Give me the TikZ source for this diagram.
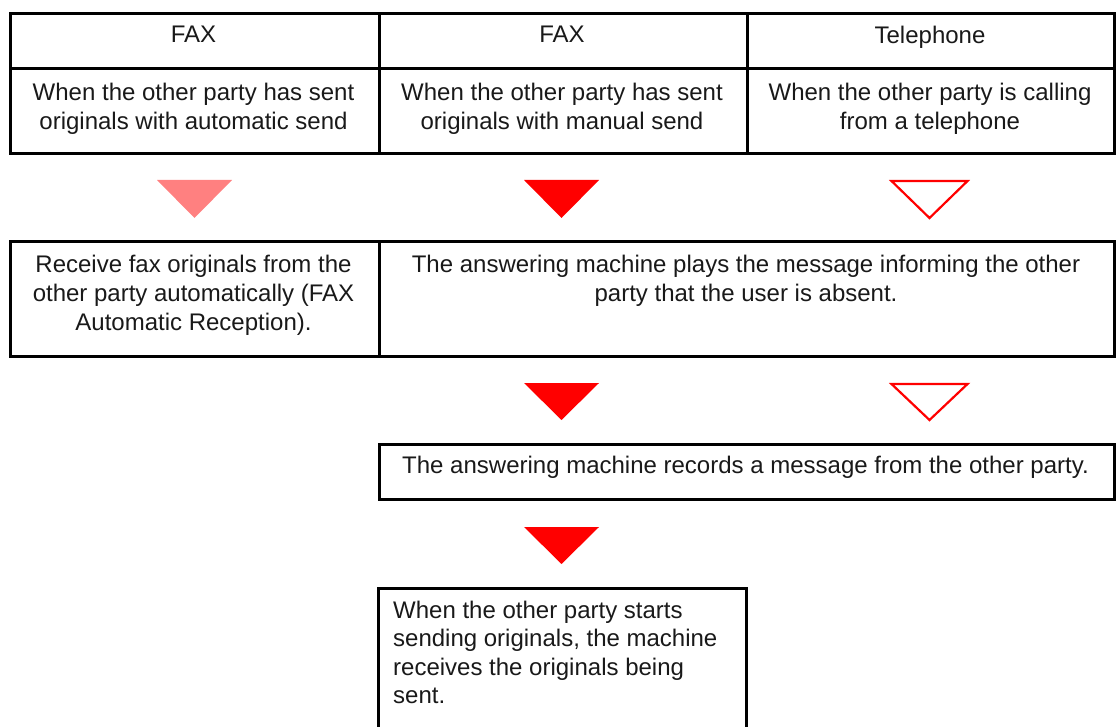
\documentclass[tikz,border=0pt]{standalone}
\usepackage{fontspec}
\setmainfont{Liberation Sans}
\begin{document}
\begin{tikzpicture}[x=1pt,y=-1pt,
  cell/.style={draw=black,line width=3pt,rectangle,inner sep=0pt,anchor=north west},
  txt/.style={inner sep=0pt,align=center,text=black!90,font=\fontsize{24}{29.2}\selectfont},
  ltxt/.style={inner sep=0pt,align=left,text=black!90,font=\fontsize{24}{28.5}\selectfont},
  redfill/.style={fill={rgb,255:red,255;green,0;blue,0},draw=none},
  pinkfill/.style={fill={rgb,255:red,255;green,128;blue,128},draw=none},
  redline/.style={draw={rgb,255:red,255;green,0;blue,0},line width=2.2pt,line join=miter,fill=white}]
\useasboundingbox (0,0) rectangle (1118,727);
% table header row
\node[cell,minimum width=369pt,minimum height=55pt] (h1) at (9,12) {};
\node[cell,minimum width=368pt,minimum height=55pt] (h2) at (378,12) {};
\node[cell,minimum width=367pt,minimum height=55pt] (h3) at (746,12) {};
\node[cell,minimum width=369pt,minimum height=85pt] (c1) at (9,67) {};
\node[cell,minimum width=368pt,minimum height=85pt] (c2) at (378,67) {};
\node[cell,minimum width=367pt,minimum height=85pt] (c3) at (746,67) {};
\node[txt,anchor=north] (th1) at (193.5,25.5) {FAX};
\node[txt,anchor=north] (th2) at (562,25.5) {FAX};
\node[txt,anchor=north] (th3) at (930,25.5) {Telephone};
\node[txt,anchor=north] (tc1) at (193.5,82.5) {When the other party has sent\\originals with automatic send};
\node[txt,anchor=north] (tc2) at (562,82.5) {When the other party has sent\\originals with manual send};
\node[txt,anchor=north] (tc3) at (930,82.5) {When the other party is calling\\from a telephone};
% triangles row 1
\fill[pinkfill] (157,180) -- (232,180) -- (194.5,218) -- cycle;
\fill[redfill] (524,180) -- (599,180) -- (561.5,218) -- cycle;
\draw[redline] (891.5,181) -- (967.5,181) -- (929.5,218) -- cycle;
% second row
\node[cell,minimum width=369pt,minimum height=115pt] (r1) at (9,240) {};
\node[cell,minimum width=735pt,minimum height=115pt] (r2) at (378,240) {};
\node[txt,anchor=north] (tr1) at (193.5,254.5) {Receive fax originals from the\\other party automatically (FAX\\Automatic Reception).};
\node[txt,anchor=north] (tr2) at (746,254.5) {The answering machine plays the message informing the other\\party that the user is absent.};
% triangles row 2
\fill[redfill] (524,383) -- (599,383) -- (561.5,420) -- cycle;
\draw[redline] (891.5,384) -- (967.5,384) -- (929.5,420) -- cycle;
% third box
\node[cell,minimum width=735pt,minimum height=55pt] (b3) at (378,443) {};
\node[txt,anchor=north] (tb3) at (745.5,455.5) {The answering machine records a message from the other party.};
% triangle row 3
\fill[redfill] (524,527) -- (599,527) -- (561.5,564) -- cycle;
% fourth box (open at bottom)
\coordinate (b4bl) at (378,730);
\coordinate (b4tl) at (378,588);
\coordinate (b4tr) at (746.5,588);
\coordinate (b4br) at (746.5,730);
\draw[line width=3pt,line join=miter] (b4bl) -- (b4tl) -- (b4tr) -- (b4br);
\node[ltxt,anchor=north west] (tb4) at (393,600.5) {When the other party starts\\sending originals, the machine\\receives the originals being\\sent.};
\end{tikzpicture}
\end{document}
